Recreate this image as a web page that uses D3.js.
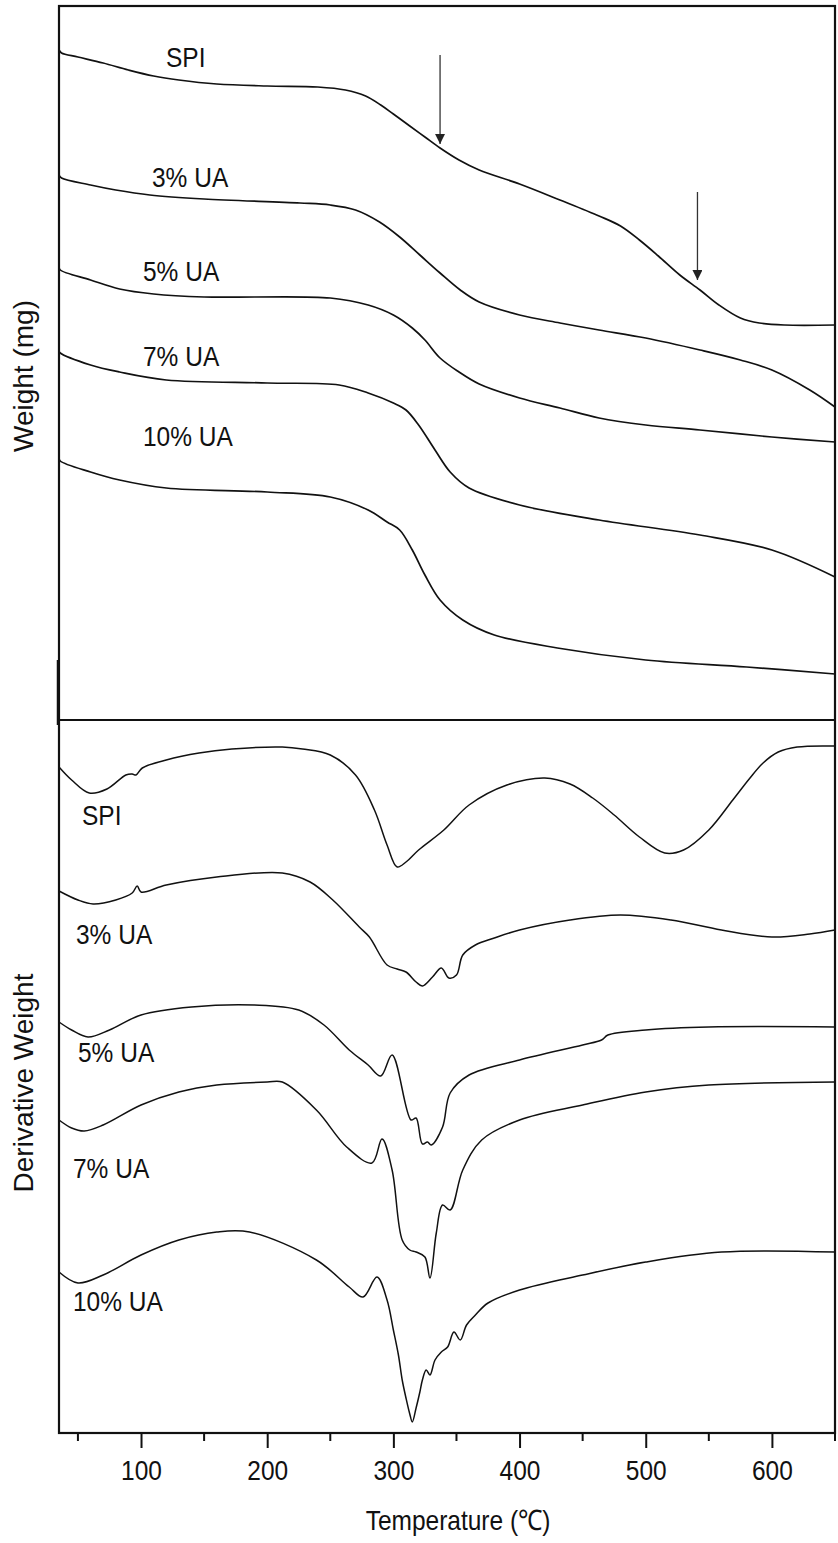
<!DOCTYPE html>
<html>
<head>
<meta charset="utf-8">
<script src="https://cdn.jsdelivr.net/npm/d3@7"></script>
<style>
  body { margin: 0; background: #fff; }
  text { font-family: "Liberation Sans", Arial, sans-serif; fill: #111; }
</style>
</head>
<body>
<script>
// temperature ticks
const majorTicks = [100, 200, 300, 400, 500, 600];
const minorTicks = [50, 150, 250, 350, 450, 550, 650];

// TG curves, [temperature, weight (a.u., offset stacked)]
const tgSPI = [[35,67.0],[37,66.7],[50,66.3],[70,65.7],[90,65.0],[110,64.4],[130,64.0],[160,63.6],[200,63.4],[240,63.3],[262,63.0],[278,62.4],[290,61.5],[300,60.6],[313,59.4],[325,58.3],[337,57.2],[352,56.0],[368,55.0],[400,53.6],[432,52.0],[463,50.4],[480,49.4],[495,48.0],[510,46.4],[527,44.5],[543,43.0],[558,41.5],[575,40.2],[590,39.7],[610,39.5],[650,39.5]];
const tgUA3 = [[35,54.5],[37,54.2],[60,53.5],[80,53.0],[107,52.5],[150,52.1],[226,51.7],[250,51.5],[270,51.0],[289,49.8],[305,48.3],[321,46.5],[337,44.7],[353,43.0],[368,41.8],[400,40.5],[432,39.7],[463,39.0],[500,38.2],[543,37.0],[575,36.0],[600,35.0],[630,33.0],[650,31.3]];
const tgUA5 = [[35,45.3],[36,45.0],[60,44.0],[83,43.1],[110,42.6],[150,42.3],[250,42.2],[280,41.5],[300,40.5],[315,39.2],[325,38.0],[337,36.2],[352,34.8],[368,33.6],[400,32.2],[432,31.2],[463,30.2],[500,29.5],[543,29.0],[600,28.3],[650,27.8]];
const tgUA7 = [[35,36.9],[36,36.7],[60,35.5],[83,34.8],[120,34.0],[200,33.7],[257,33.5],[280,32.7],[300,31.7],[310,31.0],[320,29.5],[333,27.0],[345,24.8],[360,23.2],[400,21.5],[463,20.0],[543,18.5],[600,17.0],[650,14.3]];
const tgUA10 = [[35,26.2],[36,25.9],[60,24.8],[83,24.0],[120,23.2],[200,22.8],[250,22.3],[280,21.0],[295,19.8],[305,19.0],[315,17.0],[325,14.5],[337,12.0],[355,10.0],[380,8.5],[430,7.2],[500,6.0],[580,5.3],[650,4.6]];

// DTG curves, [temperature, derivative weight (a.u., offset stacked)]
const dtgSPI = [[35,66.6],[45,65.3],[59,64.0],[73,64.4],[88,65.8],[93,65.9],[96,65.8],[101,66.5],[120,67.3],[146,68.0],[172,68.4],[212,68.6],[228,68.4],[250,67.8],[270,65.8],[285,62.3],[295,58.8],[303,56.6],[310,57.1],[320,58.3],[340,60.3],[360,62.8],[390,64.8],[420,65.5],[440,64.9],[458,63.5],[475,61.8],[495,59.6],[515,58.0],[530,58.3],[550,60.3],[569,63.3],[582,65.4],[593,67.0],[605,68.1],[620,68.6],[650,68.7]];
const dtgUA3 = [[35,54.2],[50,53.3],[62,52.9],[80,53.3],[93,54.0],[97,54.7],[100,54.1],[120,54.8],[160,55.6],[212,56.0],[234,55.1],[252,53.3],[273,50.6],[281,49.6],[295,46.8],[303,46.4],[310,46.1],[318,45.1],[323,44.7],[331,45.6],[338,46.5],[344,45.5],[350,45.8],[355,47.8],[365,48.8],[380,49.5],[400,50.3],[440,51.3],[480,51.8],[520,51.3],[560,50.3],[600,49.6],[630,49.9],[650,50.3]];
const dtgUA5 = [[35,41.1],[45,40.3],[58,39.6],[75,40.3],[100,41.8],[140,42.6],[190,42.8],[225,42.3],[245,40.8],[265,38.3],[280,36.8],[290,35.7],[299,37.8],[314,31.3],[318,31.5],[323,28.9],[327,29.1],[330,28.8],[339,30.6],[345,34.0],[360,35.8],[400,37.3],[450,38.8],[465,39.3],[470,39.8],[500,40.3],[550,40.6],[650,40.6]];
const dtgUA7 = [[35,31.3],[45,30.5],[55,30.2],[70,30.8],[100,32.8],[130,34.1],[160,34.8],[200,35.1],[212,35.1],[239,32.3],[263,28.6],[283,27.0],[291,29.4],[299,26.3],[307,19.3],[313,18.3],[318,18.1],[325,17.6],[329,15.5],[334,20.0],[339,22.8],[345,22.3],[355,26.3],[370,29.3],[400,31.3],[450,32.8],[500,34.1],[550,34.8],[650,35.1]];
const dtgUA10 = [[35,16.1],[50,15.0],[70,15.8],[100,17.8],[130,19.3],[160,20.1],[186,20.1],[239,17.3],[265,14.6],[276,13.6],[287,15.6],[295,13.3],[300,10.3],[304,7.8],[307,5.3],[310,3.5],[313,1.9],[315,1.1],[318,2.5],[321,4.1],[323,5.3],[326,6.3],[329,5.8],[333,7.3],[338,8.1],[343,8.6],[348,10.1],[353,9.3],[358,10.8],[365,11.8],[375,13.0],[400,14.3],[450,15.8],[500,17.1],[560,18.1],[650,18.1]];

const seriesNames = ["SPI", "3% UA", "5% UA", "7% UA", "10% UA"];
const tgSeries = [tgSPI, tgUA3, tgUA5, tgUA7, tgUA10];
const dtgSeries = [dtgSPI, dtgUA3, dtgUA5, dtgUA7, dtgUA10];

// arrows on the SPI TG curve: [temperature, from, to]
const arrows = [[337, 66.5, 57.6], [541, 52.8, 44.0]];

// label anchors (left x, baseline y) in px
const tgLabelPos = [[166, 67], [152, 187], [143, 281], [143, 366], [143, 446]];
const dtgLabelPos = [[82, 825], [76, 944], [78, 1062], [73, 1178], [73, 1311]];

const W = 838, H = 1543;
const padL = 59, padR = 835, padT = 6, padMid = 720, padB = 1433;

const svg = d3.select("body").append("svg")
    .attr("width", W)
    .attr("height", H);

const x = d3.scaleLinear().domain([35, 650]).range([padL, padR]);
const yTop = d3.scaleLinear().domain([0, 71.4]).range([padMid, padT]);
const yBot = d3.scaleLinear().domain([0, 71.3]).range([padB, padMid]);

const lineTop = d3.line().x(d => x(d[0])).y(d => yTop(d[1])).curve(d3.curveCatmullRom);
const lineBot = d3.line().x(d => x(d[0])).y(d => yBot(d[1])).curve(d3.curveCatmullRom);

// curves
svg.append("g").selectAll("path")
    .data(tgSeries)
    .join("path")
    .attr("d", lineTop)
    .attr("fill", "none")
    .attr("stroke", "#111")
    .attr("stroke-width", 1.7);

svg.append("g").selectAll("path")
    .data(dtgSeries)
    .join("path")
    .attr("d", lineBot)
    .attr("fill", "none")
    .attr("stroke", "#111")
    .attr("stroke-width", 1.5);

// arrows
svg.append("defs").append("marker")
    .attr("id", "head")
    .attr("viewBox", "0 0 10 10")
    .attr("refX", 10).attr("refY", 5)
    .attr("markerWidth", 10).attr("markerHeight", 10)
    .attr("markerUnits", "userSpaceOnUse")
    .attr("orient", "auto")
    .append("path")
    .attr("d", "M0,0L10,5L0,10Z")
    .attr("fill", "#222");

svg.append("g").selectAll("line")
    .data(arrows)
    .join("line")
    .attr("x1", d => x(d[0])).attr("x2", d => x(d[0]))
    .attr("y1", d => yTop(d[1])).attr("y2", d => yTop(d[2]))
    .attr("stroke", "#333")
    .attr("stroke-width", 1.3)
    .attr("marker-end", "url(#head)");

// frames
svg.append("rect")
    .attr("x", padL).attr("y", padT)
    .attr("width", padR - padL).attr("height", padB - padT)
    .attr("fill", "none")
    .attr("stroke", "#111")
    .attr("stroke-width", 2.2);
svg.append("line")
    .attr("x1", padL).attr("x2", padR)
    .attr("y1", padMid).attr("y2", padMid)
    .attr("stroke", "#111")
    .attr("stroke-width", 2.2);
// the top panel's left edge is drawn heavier just above the join
svg.append("line")
    .attr("x1", padL - 1).attr("x2", padL - 1)
    .attr("y1", padMid - 60).attr("y2", padMid + 5)
    .attr("stroke", "#111")
    .attr("stroke-width", 2.5);

// x axis
const xAxis = d3.axisBottom(x)
    .tickValues(majorTicks)
    .tickSize(15)
    .tickPadding(8)
    .tickFormat(d3.format("d"));
const ax = svg.append("g")
    .attr("transform", `translate(0,${padB})`)
    .call(xAxis);
ax.select(".domain").remove();
ax.selectAll(".tick line").attr("stroke", "#111").attr("stroke-width", 2);
ax.selectAll(".tick text")
    .attr("font-size", 24.5)
    .attr("fill", "#111")
    .attr("dy", null)
    .attr("y", 0)
    .attr("transform", "translate(0,47) scale(1,1.15)");

svg.append("g").selectAll("line")
    .data(minorTicks)
    .join("line")
    .attr("x1", d => x(d)).attr("x2", d => x(d))
    .attr("y1", padB).attr("y2", padB + 8)
    .attr("stroke", "#111")
    .attr("stroke-width", 2);

// axis titles
svg.append("text")
    .attr("transform", `translate(458,1530) scale(1,1.15)`)
    .attr("text-anchor", "middle")
    .attr("font-size", 24.5)
    .text("Temperature (℃)");

svg.append("text")
    .attr("transform", `translate(33,376) rotate(-90)`)
    .attr("text-anchor", "middle")
    .attr("font-size", 28)
    .text("Weight (mg)");

svg.append("text")
    .attr("transform", `translate(33,1083) rotate(-90)`)
    .attr("text-anchor", "middle")
    .attr("font-size", 28)
    .text("Derivative Weight");

// curve labels
const labels = svg.append("g").attr("font-size", 24.5);
labels.selectAll("text.tg")
    .data(seriesNames)
    .join("text")
    .attr("class", "tg")
    .attr("transform", (d, i) => `translate(${tgLabelPos[i][0]},${tgLabelPos[i][1]}) scale(1,1.15)`)
    .text(d => d);
labels.selectAll("text.dtg")
    .data(seriesNames)
    .join("text")
    .attr("class", "dtg")
    .attr("transform", (d, i) => `translate(${dtgLabelPos[i][0]},${dtgLabelPos[i][1]}) scale(1,1.15)`)
    .text(d => d);
</script>
</body>
</html>
